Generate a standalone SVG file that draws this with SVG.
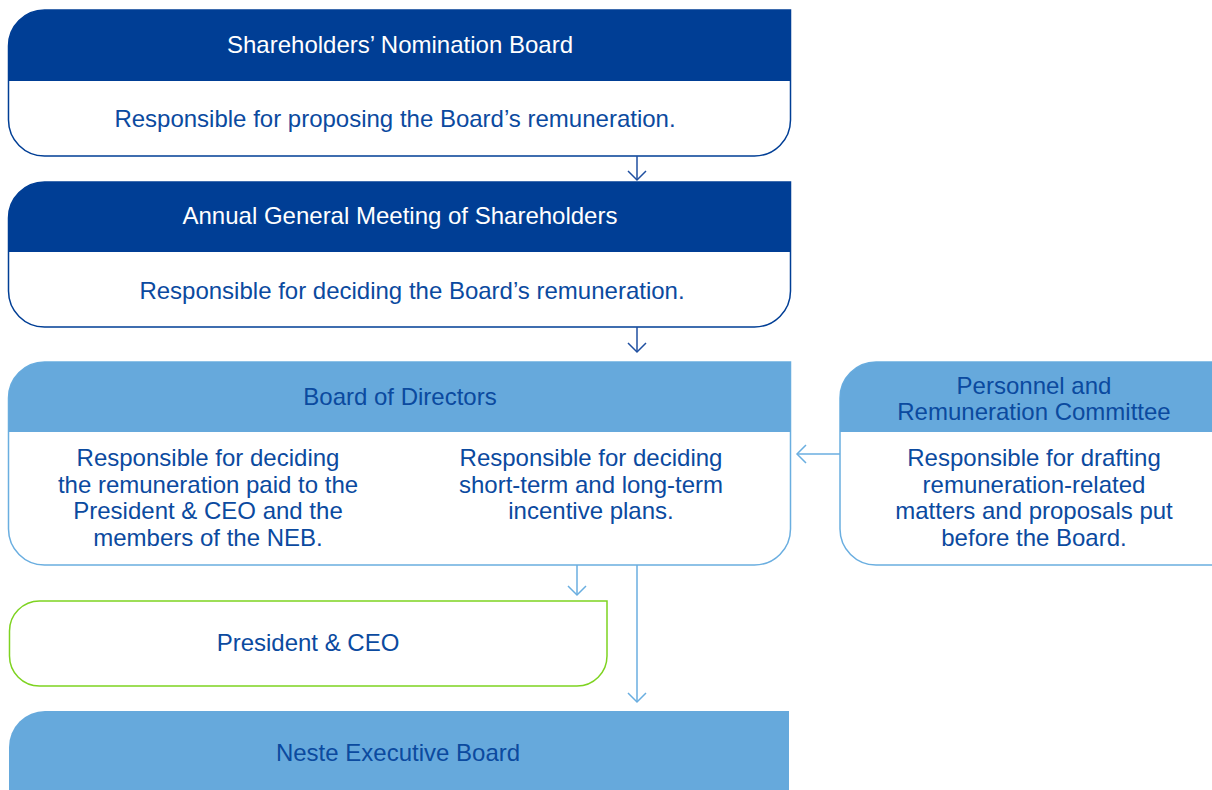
<svg xmlns="http://www.w3.org/2000/svg" width="1212" height="790" viewBox="0 0 1212 790">
<defs>
<style>
text{font-family:"Liberation Sans",Arial,sans-serif;font-size:24px;text-anchor:middle}
.w{fill:#ffffff}
.b{fill:#0B4A9F}
.dk{fill:#003E95}
.lt{fill:#66A9DC}
.odk{fill:#ffffff;stroke:#003E95;stroke-width:1.5}
.olt{fill:#ffffff;stroke:#6AAEE0;stroke-width:1.5}
.ogr{fill:#ffffff;stroke:#7ED321;stroke-width:1.5}
.cd{fill:none;stroke:#1F4FA0;stroke-width:1.5}
.cl{fill:none;stroke:#6AAEE0;stroke-width:1.5}
</style>
<marker id="ad" viewBox="0 0 20 20" refX="18" refY="10" markerWidth="20" markerHeight="20" markerUnits="userSpaceOnUse" orient="auto">
<path d="M9,1 L18,10 L9,19" fill="none" stroke="#1F4FA0" stroke-width="1.5"/>
</marker>
<marker id="al" viewBox="0 0 20 20" refX="18" refY="10" markerWidth="20" markerHeight="20" markerUnits="userSpaceOnUse" orient="auto">
<path d="M9,1 L18,10 L9,19" fill="none" stroke="#6AAEE0" stroke-width="1.5"/>
</marker>
</defs>
<rect width="1212" height="790" fill="#ffffff"/>

<g id="shareholders-nomination-board">
<path class="odk" d="M44.5,10 H790.5 V120 A36,36 0 0 1 754.5,156 H44.5 A36,36 0 0 1 8.5,120 V46 A36,36 0 0 1 44.5,10 Z"/>
<path class="dk" d="M44.5,10 H790.5 V81 H8.5 V46 A36,36 0 0 1 44.5,10 Z"/>
<text class="w" x="400" y="52.5">Shareholders’ Nomination Board</text>
<text class="b" x="395" y="126.5">Responsible for proposing the Board’s remuneration.</text>
</g>

<g id="annual-general-meeting">
<path class="odk" d="M44.5,182 H790.5 V291 A36,36 0 0 1 754.5,327 H44.5 A36,36 0 0 1 8.5,291 V218 A36,36 0 0 1 44.5,182 Z"/>
<path class="dk" d="M44.5,182 H790.5 V252 H8.5 V218 A36,36 0 0 1 44.5,182 Z"/>
<text class="w" x="400" y="223.5">Annual General Meeting of Shareholders</text>
<text class="b" x="412" y="298.5">Responsible for deciding the Board’s remuneration.</text>
</g>

<g id="board-of-directors">
<path class="olt" d="M44.5,362 H790.5 V529 A36,36 0 0 1 754.5,565 H44.5 A36,36 0 0 1 8.5,529 V398 A36,36 0 0 1 44.5,362 Z"/>
<path class="lt" d="M44.5,362 H790.5 V432 H8.5 V398 A36,36 0 0 1 44.5,362 Z"/>
<text class="b" x="400" y="404.5">Board of Directors</text>
<text class="b" x="208" y="465.5">Responsible for deciding</text>
<text class="b" x="208" y="492.5">the remuneration paid to the</text>
<text class="b" x="208" y="518.5">President &amp; CEO and the</text>
<text class="b" x="208" y="545.5">members of the NEB.</text>
<text class="b" x="591" y="465.5">Responsible for deciding</text>
<text class="b" x="591" y="492.5">short-term and long-term</text>
<text class="b" x="591" y="518.5">incentive plans.</text>
</g>

<g id="personnel-remuneration-committee">
<path class="olt" d="M876,362 H1250 V529 A36,36 0 0 1 1214,565 H876 A36,36 0 0 1 840,529 V398 A36,36 0 0 1 876,362 Z"/>
<path class="lt" d="M876,362 H1250 V432 H840 V398 A36,36 0 0 1 876,362 Z"/>
<text class="b" x="1034" y="393.5">Personnel and</text>
<text class="b" x="1034" y="419.5">Remuneration Committee</text>
<text class="b" x="1034" y="465.5">Responsible for drafting</text>
<text class="b" x="1034" y="492.5">remuneration-related</text>
<text class="b" x="1034" y="518.5">matters and proposals put</text>
<text class="b" x="1034" y="545.5">before the Board.</text>
</g>

<g id="president-ceo">
<path class="ogr" d="M39.5,601 H607 V656 A30,30 0 0 1 577,686 H39.5 A30,30 0 0 1 9.5,656 V631 A30,30 0 0 1 39.5,601 Z"/>
<text class="b" x="308" y="650.5">President &amp; CEO</text>
</g>

<g id="neste-executive-board">
<path class="lt" d="M45,711 H789 V830 H9 V747 A36,36 0 0 1 45,711 Z"/>
<text class="b" x="398" y="760.5">Neste Executive Board</text>
</g>

<g id="connectors">
<line class="cd" x1="637" y1="156" x2="637" y2="180" marker-end="url(#ad)"/>
<line class="cd" x1="637" y1="327" x2="637" y2="352" marker-end="url(#ad)"/>
<line class="cl" x1="840" y1="454" x2="797" y2="454" marker-end="url(#al)"/>
<line class="cl" x1="577" y1="565" x2="577" y2="595" marker-end="url(#al)"/>
<line class="cl" x1="637" y1="565" x2="637" y2="702" marker-end="url(#al)"/>
</g>
</svg>
